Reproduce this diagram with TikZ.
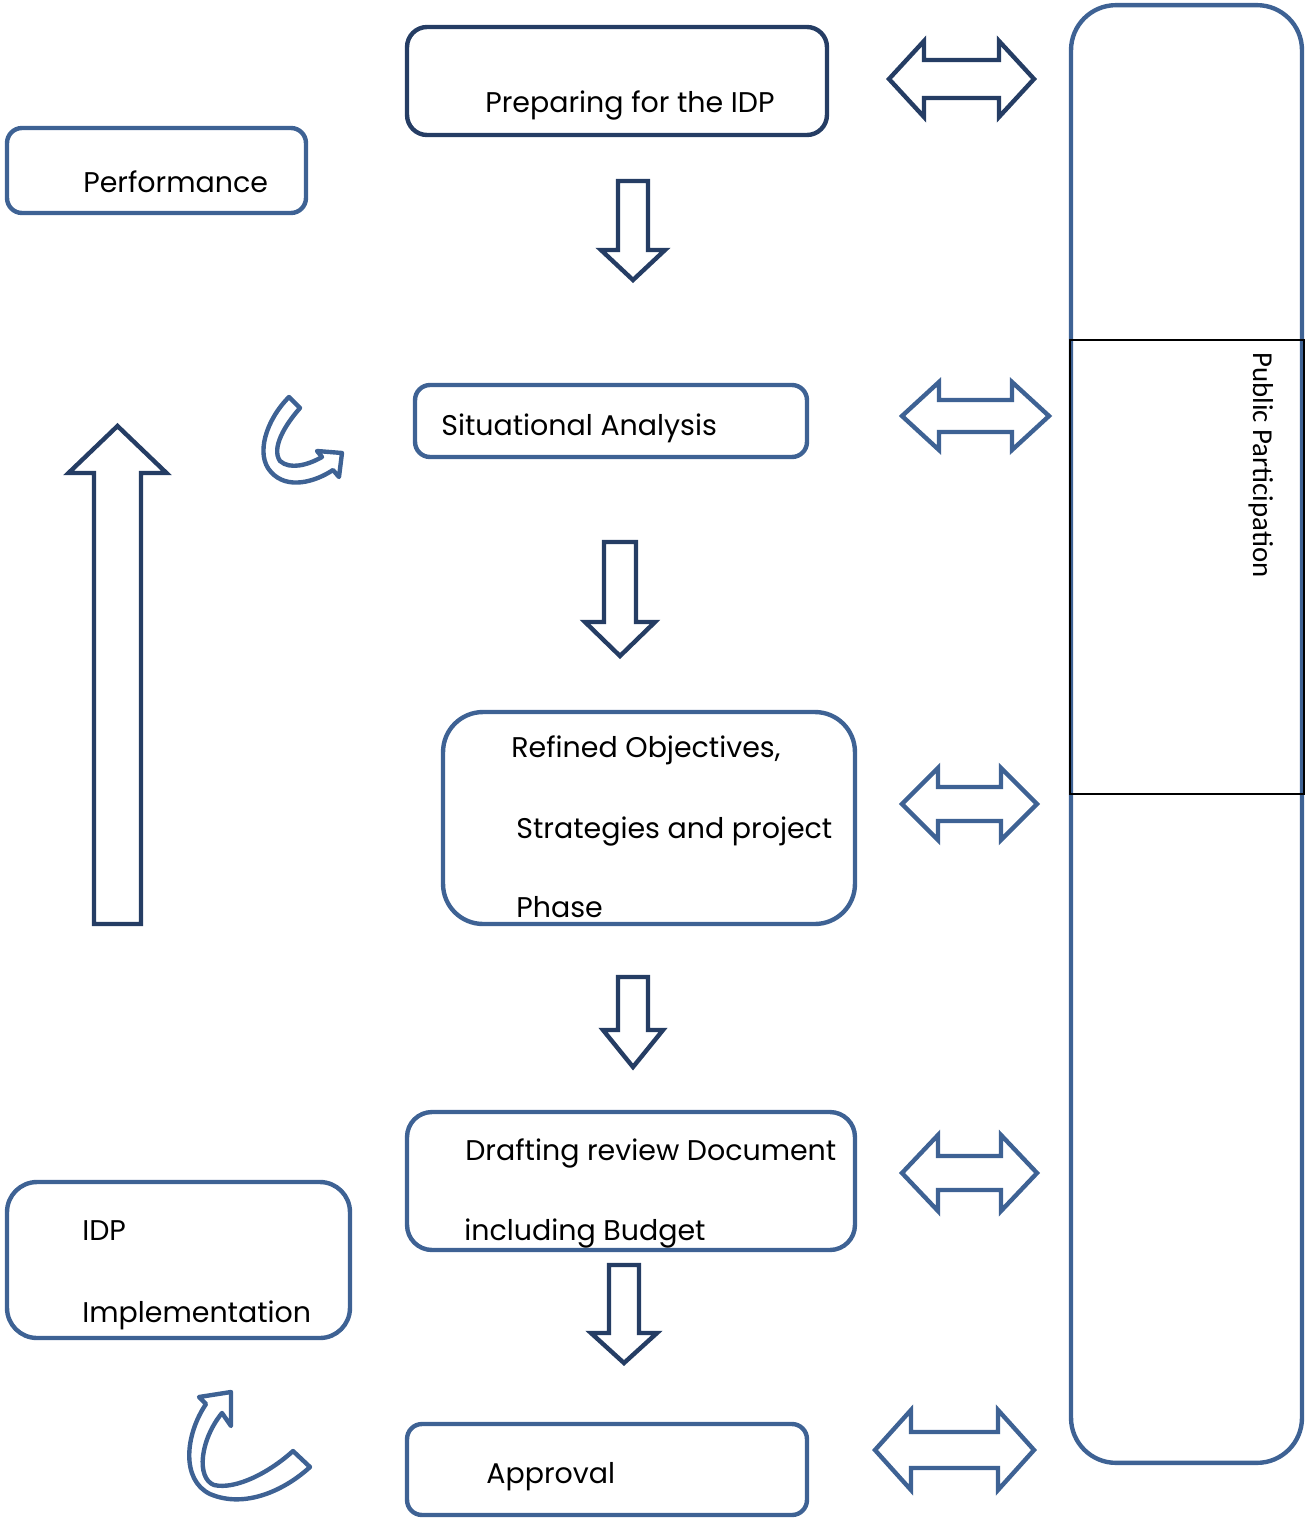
\documentclass[tikz,border=0pt]{standalone}
\usepackage{fontspec}
\setmainfont{Poppins}
\newfontfamily\sidefont{Carlito}
\usetikzlibrary{positioning}
\definecolor{navyblue}{RGB}{37,61,100}
\definecolor{steelblue}{RGB}{62,98,148}

\tikzset{
  phase/.style={draw=steelblue, line width=2.5pt, rounded corners=0.35cm, inner sep=0pt},
  phasetext/.style={anchor=base west, inner sep=0pt, font=\fontsize{16.2}{19}\selectfont},
  blockarrow/.style={draw=navyblue, line width=2.5pt, line join=miter, fill=white},
  bentarrow/.style={draw=steelblue, line width=2.5pt, line join=round, fill=white}
}

\begin{document}
\begin{tikzpicture}[x=0.02cm, y=-0.02cm]
    \useasboundingbox (0,0) rectangle (1306,1521);

    % side bar
    \node[phase, minimum width=4.62cm, minimum height=29.16cm, rounded corners=0.9cm] (public) at (1186.5,734) {};
    \node[draw=black, line width=1pt, minimum width=4.68cm, minimum height=9.08cm, inner sep=0pt] (pubmid) at (1187,567) {};
    \node[phasetext, rotate=-90, font=\sidefont\fontsize{16.4}{19}\selectfont] (pubtext) at (1253,352) {Public Participation};

    % phase boxes
    \node[phase, draw=navyblue, minimum width=8.4cm, minimum height=2.16cm, rounded corners=0.4cm] (prep) at (617,81) {};
    \node[phase, minimum width=5.98cm, minimum height=1.7cm, rounded corners=0.3cm] (perf) at (156.5,170.5) {};
    \node[phase, minimum width=7.84cm, minimum height=1.44cm, rounded corners=0.3cm] (sit) at (611,421) {};
    \node[phase, minimum width=8.24cm, minimum height=4.24cm, rounded corners=0.8cm] (refined) at (649,818) {};
    \node[phase, minimum width=8.96cm, minimum height=2.76cm, rounded corners=0.5cm] (draft) at (631,1181) {};
    \node[phase, minimum width=8cm, minimum height=1.82cm, rounded corners=0.3cm] (approval) at (607,1469.5) {};
    \node[phase, minimum width=6.86cm, minimum height=3.12cm, rounded corners=0.6cm] (impl) at (178.5,1260) {};

    \node[phasetext] (preptext) at (485,112) {Preparing for the IDP};
    \node[phasetext] (perftext) at (83,192) {Performance};
    \node[phasetext] (sittext) at (441,435) {Situational Analysis};
    \node[phasetext] (reftexta) at (511,757) {Refined Objectives,};
    \node[phasetext] (reftextb) at (516,838) {Strategies and project};
    \node[phasetext] (reftextc) at (516,917) {Phase};
    \node[phasetext] (drafttexta) at (465,1160) {Drafting review Document};
    \node[phasetext] (drafttextb) at (464,1240) {including Budget};
    \node[phasetext] (apprtext) at (486,1483) {Approval};
    \node[phasetext] (impltexta) at (82,1240) {IDP};
    \node[phasetext] (impltextb) at (82,1322) {Implementation};

    % down arrows: centre x / top / head base / tip / half shaft / half head
    \foreach \xc/\yt/\yb/\yp/\sh/\hh in {633/181/250/280/15/32, 620/542/622/656/16/35,
                                        633/977/1030/1067/15/30, 624/1265/1333/1363/15/33}
        \draw[blockarrow] (\xc-\sh,\yt) -- (\xc+\sh,\yt) -- (\xc+\sh,\yb) -- (\xc+\hh,\yb)
            -- (\xc,\yp) -- (\xc-\hh,\yb) -- (\xc-\sh,\yb) -- cycle;

    % up arrow
    \draw[blockarrow] (94,924) -- (94,473) -- (68.5,473) -- (117.5,426) -- (166.5,473)
        -- (141,473) -- (141,924) -- cycle;

    % two-way arrows: left tip / right tip / centre y / half head / half shaft / head length / colour
    \foreach \xl/\xr/\yc/\hh/\sh/\hl/\col in {889/1034/79/38/19/35/navyblue, 902/1049/416/34/16/37/steelblue,
                                             902/1037/804/36/17/36/steelblue, 902/1037/1173/38/17/36/steelblue,
                                             875/1034/1450/40/18/36/steelblue}
        \draw[blockarrow, draw=\col] (\xl,\yc) -- (\xl+\hl,\yc-\hh) -- (\xl+\hl,\yc-\sh) -- (\xr-\hl,\yc-\sh)
            -- (\xr-\hl,\yc-\hh) -- (\xr,\yc) -- (\xr-\hl,\yc+\hh) -- (\xr-\hl,\yc+\sh)
            -- (\xl+\hl,\yc+\sh) -- (\xl+\hl,\yc+\hh) -- cycle;

    % bent arrows
    \draw[bentarrow] (289,397) -- (300,408) .. controls (285,425) and (271,448) .. (280,461)
        .. controls (290,470) and (308,465) .. (322,457) -- (317,451) -- (342,453) -- (339,477)
        -- (333,470) .. controls (315,482) and (287,490) .. (271,472)
        .. controls (255,455) and (266,420) .. cycle;
    \draw[bentarrow] (310,1467) -- (293,1451) .. controls (270,1472) and (236,1490) .. (214,1485)
        .. controls (196,1478) and (200,1440) .. (222,1413) -- (231,1426) -- (231,1392) -- (199,1397)
        -- (206,1404) .. controls (185,1435) and (181,1480) .. (210,1494)
        .. controls (245,1509) and (285,1490) .. cycle;
\end{tikzpicture}
\end{document}
